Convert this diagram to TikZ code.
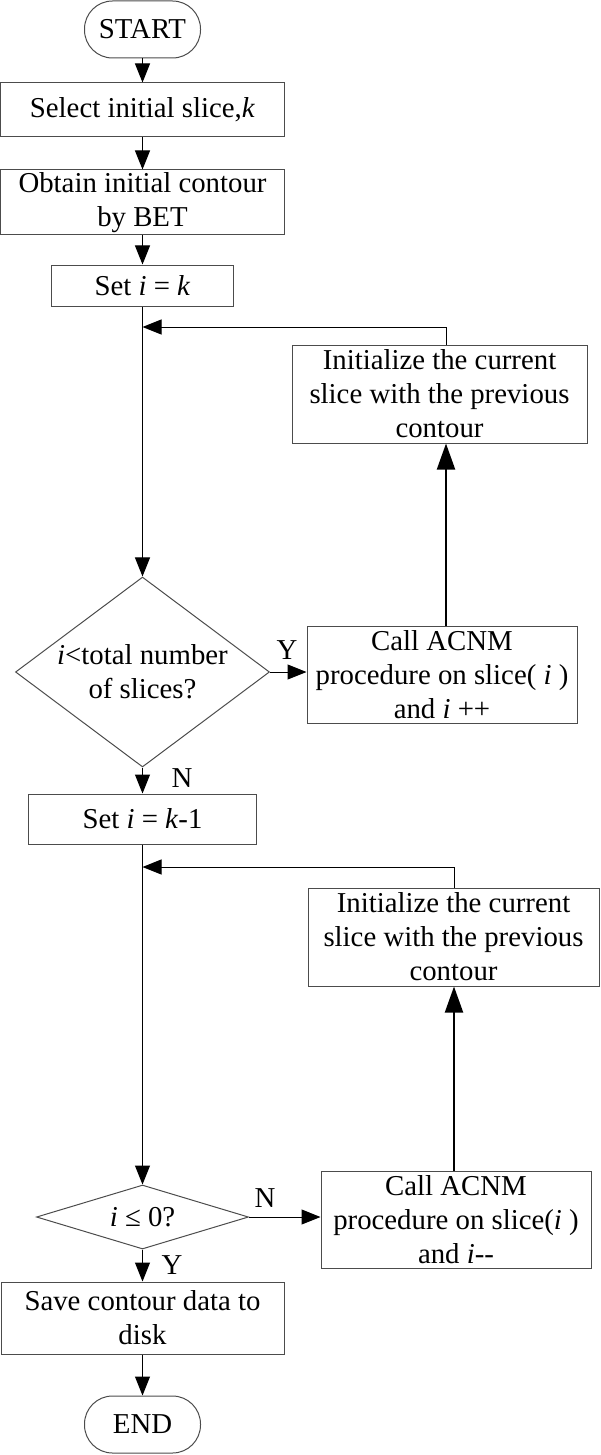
\documentclass[tikz,border=0pt]{standalone}
\usepackage{fontspec}
\setmainfont{Liberation Serif}
\usetikzlibrary{shapes.geometric,arrows.meta}
\begin{document}
\begin{tikzpicture}[x=0.5pt,y=-0.5pt,
  every node/.style={font=\fontsize{14.4}{17}\selectfont, inner sep=0pt},
  box/.style={draw=black!70, line width=0.5pt, rectangle, align=center},
  term/.style={draw=black!70, line width=0.5pt, rectangle, rounded corners=14pt, minimum width=58pt, minimum height=28.5pt},
  dec/.style={draw=black!70, line width=0.5pt, diamond, align=center},
  arr/.style={line width=0.5pt, -{Triangle[length=9.5pt,width=7.5pt]}},
  tharr/.style={line width=1pt, -{Triangle[length=13pt,width=9pt]}}
]
\useasboundingbox (0,0) rectangle (600,1455);

\node[term] (start) at (142.5,29.5) {START};
\node[box, minimum width=142pt, minimum height=27pt] (sel) at (142.5,110) {Select initial slice,\textit{k}};
\node[box, minimum width=142pt, minimum height=32.5pt] (obt) at (142.5,202.5) {Obtain initial contour\\by BET};
\node[box, minimum width=91pt, minimum height=20.5pt] (setk) at (142.5,285.5) {Set \textit{i} = \textit{k}};
\node[box, minimum width=147.5pt, minimum height=49pt] (ini1) at (439.5,394) {Initialize the current\\slice with the previous\\contour};
\node[dec, aspect=1.34, minimum width=127pt, minimum height=95pt] (d1) at (142.5,672) {\textit{i}<total number\\of slices?};
\node[box, minimum width=135pt, minimum height=48.5pt] (call1) at (442,674.5) {Call ACNM\\procedure on slice( \textit{i} )\\and \textit{i} ++};
\node (y1) at (287,650) {Y};
\node (n1) at (182,778) {N};
\node[box, minimum width=114pt, minimum height=25pt] (setk1) at (142.5,819) {Set \textit{i} = \textit{k}-1};
\node[box, minimum width=145.5pt, minimum height=49pt] (ini2) at (453.5,937) {Initialize the current\\slice with the previous\\contour};
\node[dec, aspect=3.3, minimum width=106pt, minimum height=32pt] (d2) at (142.5,1217) {\textit{i} ≤ 0?};
\node[box, minimum width=135pt, minimum height=48.5pt] (call2) at (456,1219.5) {Call ACNM\\procedure on slice(\textit{i} )\\and \textit{i}-{}-};
\node (n2) at (265,1198) {N};
\node (y2) at (172,1265) {Y};
\node[box, minimum width=141.5pt, minimum height=36pt] (save) at (142.5,1318) {Save contour data to\\disk};
\node[term] (end) at (142.5,1424.5) {END};

\coordinate (cx1) at (446,0);
\coordinate (j1) at (142.5,327);
\coordinate (cx2) at (454,0);
\coordinate (j2) at (142.5,867);

\draw[arr] (start) -- (sel);
\draw[arr] (sel) -- (obt);
\draw[arr] (obt) -- (setk);
\draw[arr] (setk) -- (d1);
\draw[arr] (ini1.north -| cx1) |- (j1);
\draw[arr] (d1.east) -- (call1.west |- d1.east);
\draw[tharr] (call1.north -| cx1) -- (ini1.south -| cx1);
\draw[arr] (d1) -- (setk1);
\draw[arr] (setk1) -- (d2);
\draw[arr] (ini2.north -| cx2) |- (j2);
\draw[arr] (d2.east) -- (call2.west |- d2.east);
\draw[tharr] (call2.north -| cx2) -- (ini2.south -| cx2);
\draw[arr] (d2) -- (save);
\draw[arr] (save) -- (end);
\end{tikzpicture}
\end{document}
